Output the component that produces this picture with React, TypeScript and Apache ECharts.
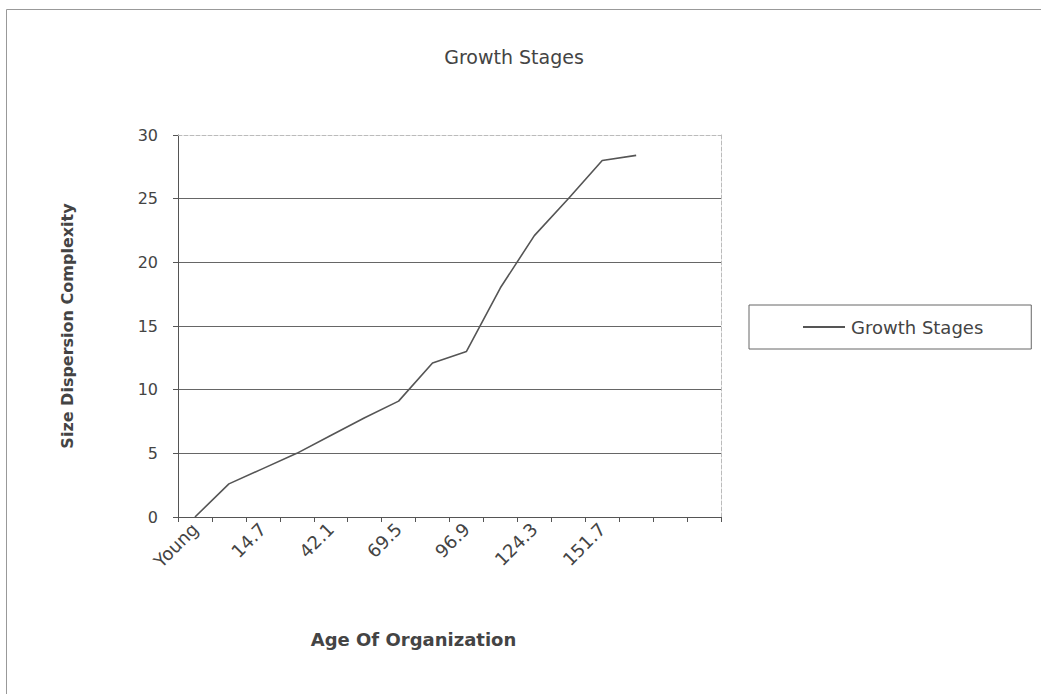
import React, { useEffect, useRef } from "react";
import * as echarts from "echarts";

const titleText = "Growth Stages";
const seriesName = "Growth Stages";
const xAxisName = "Age Of Organization";
const yAxisName = "Size Dispersion Complexity";

// 16 category slots on the axis; every other one is labelled
const categories = [
  "Young", "1.0", "14.7", "28.4", "42.1", "55.8", "69.5", "83.2",
  "96.9", "110.6", "124.3", "138.0", "151.7", "165.4", "", "",
];

const growthValues = [0, 2.6, 3.8, 5.0, 6.4, 7.8, 9.1, 12.1, 13.0, 18.0, 22.1, 25.0, 28.0, 28.4];

const yMin = 0;
const yMax = 30;
const yInterval = 5;

const FONT = "DejaVu Sans";
const TEXT = "#444";

export default function App() {
  const ref = useRef<HTMLDivElement>(null);

  useEffect(() => {
    if (!ref.current) return;
    const chart = echarts.init(ref.current, undefined, { renderer: "svg" });
    chart.setOption({
      animation: false,
      backgroundColor: "#ffffff",
      title: {
        text: titleText,
        left: 509,
        textAlign: "center",
        top: 42,
        textStyle: { fontFamily: FONT, fontSize: 19, fontWeight: "normal", color: TEXT },
      },
      legend: {
        data: [{ name: seriesName, icon: "rect" }],
        left: 749,
        top: 305,
        itemWidth: 42,
        itemHeight: 2,
        padding: [13, 48, 13, 54],
        borderColor: "#666",
        borderWidth: 1,
        itemStyle: { color: "#555" },
        textStyle: { fontFamily: FONT, fontSize: 18, color: TEXT, padding: [0, 0, 0, 1] },
      },
      grid: { left: 178, right: 320, top: 135, bottom: 177 },
      xAxis: [
        {
          type: "category",
          data: categories,
          boundaryGap: true,
          name: xAxisName,
          nameLocation: "middle",
          nameGap: 113,
          nameTextStyle: {
            fontFamily: FONT,
            fontSize: 18,
            fontWeight: "bold",
            color: TEXT,
            padding: [0, 72, 0, 0],
          },
          axisLine: { lineStyle: { color: "#555", width: 1 } },
          axisTick: { show: true, interval: 0, length: 5, lineStyle: { color: "#555" } },
          axisLabel: {
            interval: 1,
            rotate: 45,
            margin: 9,
            fontFamily: FONT,
            fontSize: 18,
            color: TEXT,
          },
          splitLine: { show: false },
        },
        {
          type: "category",
          data: categories,
          position: "top",
          axisLine: { show: true, onZero: false, lineStyle: { color: "#bbb", type: "dashed" } },
          axisTick: { show: false },
          axisLabel: { show: false },
          splitLine: { show: false },
        },
      ],
      yAxis: [
        {
          type: "value",
          min: yMin,
          max: yMax,
          interval: yInterval,
          name: yAxisName,
          nameLocation: "middle",
          nameGap: 103,
          nameTextStyle: { fontFamily: FONT, fontSize: 16, fontWeight: "bold", color: TEXT },
          axisLine: { show: true, lineStyle: { color: "#555", width: 1 } },
          axisTick: { show: true, length: 5, lineStyle: { color: "#555" } },
          axisLabel: { margin: 20, fontFamily: FONT, fontSize: 16, color: TEXT },
          splitLine: {
            show: true,
            lineStyle: {
              color: ["#555", "#666", "#666", "#666", "#666", "#666", "rgba(0,0,0,0)"],
              width: 1,
            },
          },
        },
        {
          type: "value",
          min: yMin,
          max: yMax,
          interval: yInterval,
          position: "right",
          axisLine: { show: true, onZero: false, lineStyle: { color: "#bbb", type: "dashed" } },
          axisTick: { show: false },
          axisLabel: { show: false },
          splitLine: { show: false },
        },
      ],
      series: [
        {
          name: seriesName,
          type: "line",
          data: growthValues,
          xAxisIndex: 0,
          yAxisIndex: 0,
          symbol: "none",
          lineStyle: { color: "#555", width: 1.6 },
          itemStyle: { color: "#555" },
        },
      ],
      graphic: [
        {
          type: "rect",
          silent: true,
          shape: { x: 6.5, y: 9.5, width: 1100, height: 700 },
          style: { fill: "none", stroke: "#999", lineWidth: 1 },
        },
      ],
    });
    return () => chart.dispose();
  }, []);

  return (
    <div
      ref={ref}
      style={{ position: "absolute", left: 0, top: 0, width: 1041, height: 694 }}
    />
  );
}
